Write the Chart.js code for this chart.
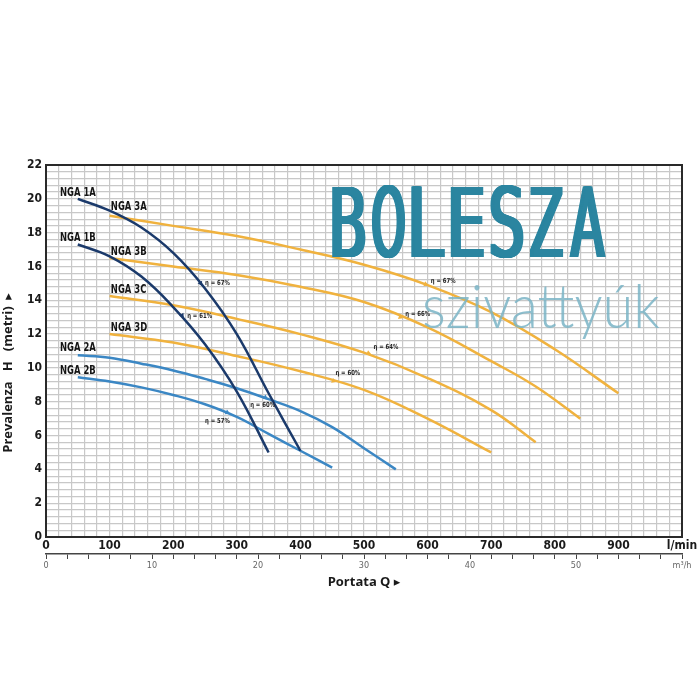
<!DOCTYPE html>
<html>
<head>
<meta charset="utf-8">
<script src="https://cdn.jsdelivr.net/npm/chart.js@4.4.1/dist/chart.umd.min.js"></script>
<style>
  html, body { margin: 0; padding: 0; background: #fff; }
  #wrap { width: 700px; height: 700px; }
</style>
</head>
<body>
<div id="wrap"><canvas id="chart"></canvas></div>
<script>
// pump curves: flow Q (l/min) and head H (m)
const q1A = [50, 100, 150, 200, 250, 300, 350, 400];
const h1A = [20.0, 19.3, 18.3, 16.8, 14.7, 12.0, 8.5, 5.1];
const q1B = [50, 100, 150, 200, 250, 300, 350];
const h1B = [17.3, 16.6, 15.4, 13.6, 11.4, 8.6, 5.0];
const q2A = [50, 100, 150, 200, 250, 300, 350, 400, 450, 500, 550];
const h2A = [10.75, 10.6, 10.25, 9.85, 9.35, 8.8, 8.15, 7.45, 6.5, 5.25, 4.0];
const q2B = [50, 100, 150, 200, 250, 300, 350, 400, 450];
const h2B = [9.45, 9.2, 8.85, 8.4, 7.85, 7.1, 6.1, 5.1, 4.1];
const q3A = [100, 200, 300, 400, 500, 600, 700, 800, 900];
const h3A = [19.0, 18.4, 17.8, 17.0, 16.1, 14.9, 13.3, 11.1, 8.5];
const q3B = [100, 200, 300, 400, 500, 600, 700, 770, 840];
const h3B = [16.5, 16.0, 15.5, 14.8, 13.9, 12.4, 10.4, 8.9, 7.0];
const q3C = [100, 200, 300, 400, 500, 600, 700, 770];
const h3C = [14.25, 13.7, 12.9, 12.0, 10.9, 9.4, 7.5, 5.6];
const q3D = [100, 200, 300, 400, 500, 600, 700];
const h3D = [12.0, 11.5, 10.7, 9.8, 8.7, 7.0, 5.0];

// curve name labels
const names = ['NGA 1A', 'NGA 1B', 'NGA 2A', 'NGA 2B', 'NGA 3A', 'NGA 3B', 'NGA 3C', 'NGA 3D'];
const nameQ = [22, 22, 22, 22, 102, 102, 102, 102];
const nameH = [20.35, 17.7, 11.2, 9.82, 19.5, 16.85, 14.64, 12.39];

// efficiency markers and labels
const effText = ['η = 67%', 'η = 61%', 'η = 60%', 'η = 57%', 'η = 67%', 'η = 66%', 'η = 64%', 'η = 60%'];
const effMarkQ = [243, 214, 345, 285, 597, 557, 507, 452];
const effMarkH = [15.0, 13.1, 8.25, 7.36, 14.95, 13.0, 10.87, 9.23];
const effTextQ = [250, 222, 321, 250, 605, 565, 515, 455];
const effTextH = [15.0, 13.05, 7.8, 6.86, 15.1, 13.2, 11.24, 9.67];

const navy = '#1b3a6b', blue = '#3b87c4', orange = '#f0b23e';
const effColor = [navy, navy, blue, blue, orange, orange, orange, orange];
const effRot = [150, 145, 118, 115, 110, 110, 112, 112];

const pts = (q, h) => q.map((v, i) => ({ x: v, y: h[i] }));
const COND = "'DejaVu Sans Condensed', 'DejaVu Sans', sans-serif";

function curve(q, h, color) {
  return {
    type: 'line', data: pts(q, h), borderColor: color, borderWidth: 2.5,
    pointRadius: 0, fill: false, tension: 0.4
  };
}

function drawText(ctx, text, x, y, font, color, sx, align) {
  ctx.save();
  ctx.translate(x, y);
  ctx.scale(sx, 1);
  ctx.font = font;
  ctx.fillStyle = color;
  ctx.textAlign = align || 'left';
  ctx.textBaseline = 'middle';
  ctx.fillText(text, 0, 0);
  ctx.restore();
}

const overlay = {
  id: 'overlay',
  afterDatasetsDraw(chart) {
    const { ctx, chartArea: a, scales: { x, y } } = chart;
    ctx.save();
    ctx.strokeStyle = '#2a2a2a';
    ctx.lineWidth = 2;
    ctx.strokeRect(a.left, a.top, a.right - a.left, a.bottom - a.top);
    names.forEach((n, i) => {
      drawText(ctx, n, x.getPixelForValue(nameQ[i]), y.getPixelForValue(nameH[i]),
        'bold 12px ' + COND, '#151515', 0.78);
    });
    effText.forEach((t, i) => {
      drawText(ctx, t, x.getPixelForValue(effTextQ[i]), y.getPixelForValue(effTextH[i]),
        'bold 7px ' + COND, '#222', 0.85);
    });
    // watermark
    const word = 'BOLESZA';
    const smear = 4;
    ctx.font = '96px ' + COND;
    ctx.fillStyle = '#2b85a0';
    ctx.textBaseline = 'alphabetic';
    ctx.textAlign = 'left';
    for (let i = 0; i < word.length; i++) {
      const m = ctx.measureText(word[i]);
      const ink = m.actualBoundingBoxLeft + m.actualBoundingBoxRight;
      const tw = (word[i] === 'A' ? 37 : 34) - smear;
      const sx = tw / ink;
      for (let d = 0; d <= smear; d += 0.5) {
        ctx.save();
        ctx.translate(332 + i * 39.5 + d + m.actualBoundingBoxLeft * sx, 257);
        ctx.scale(sx, 1);
        ctx.fillText(word[i], 0, 0);
        ctx.restore();
      }
    }
    ctx.font = '300 62px Lato, "Open Sans", sans-serif';
    const sw = ctx.measureText('szivattyúk').width;
    ctx.save();
    ctx.globalAlpha = 0.85;
    ctx.fillStyle = '#7ab4c6';
    ctx.translate(422, 328);
    ctx.scale(238 / sw, 1);
    ctx.fillText('szivattyúk', 0, 0);
    ctx.restore();
    ctx.restore();
  }
};

new Chart(document.getElementById('chart'), {
  type: 'line',
  data: {
    datasets: [
      curve(q1A, h1A, navy),
      curve(q1B, h1B, navy),
      curve(q2A, h2A, blue),
      curve(q2B, h2B, blue),
      curve(q3A, h3A, orange),
      curve(q3B, h3B, orange),
      curve(q3C, h3C, orange),
      curve(q3D, h3D, orange),
      {
        type: 'scatter', data: pts(effMarkQ, effMarkH), pointStyle: 'triangle',
        pointRadius: 3, pointRotation: effRot, pointBackgroundColor: effColor,
        pointBorderWidth: 0
      }
    ]
  },
  options: {
    animation: false,
    responsive: true,
    maintainAspectRatio: false,
    layout: { padding: { top: 165, left: 0, right: 18, bottom: 106 } },
    plugins: { legend: { display: false }, tooltip: { enabled: false } },
    scales: {
      x: {
        type: 'linear', position: 'bottom', min: 0, max: 1000, weight: 0,
        grid: { color: '#c8c8c8', lineWidth: 1.2, drawTicks: false },
        border: { display: false },
        ticks: {
          stepSize: 20, autoSkip: false, maxRotation: 0, padding: 2,
          color: '#1a1a1a', font: { family: COND, size: 12, weight: 'bold' },
          callback: v => (Math.round(v) % 100 === 0 ? (v === 1000 ? 'l/min' : v) : '')
        },
        afterFit: s => { s.height = 17; }
      },
      x2: {
        type: 'linear', position: 'bottom', min: 0, max: 60, weight: 1,
        grid: { drawOnChartArea: false, drawTicks: true, tickLength: 5, color: '#444', lineWidth: 1 },
        border: { display: true, color: '#444', width: 1.5 },
        ticks: {
          stepSize: 2, autoSkip: false, maxRotation: 0, padding: 1,
          color: '#666', font: { family: COND, size: 9 },
          callback: v => (Math.round(v) % 10 === 0 ? (v === 60 ? 'm³/h' : v) : '')
        },
        title: {
          display: true, text: 'Portata Q ▸', color: '#1a1a1a', padding: { top: 3 },
          font: { family: "'Open Sans', 'DejaVu Sans', sans-serif", size: 13, weight: 'bold' }
        },
        afterFit: s => { s.height = 40; }
      },
      y: {
        type: 'linear', min: 0, max: 22,
        grid: { color: '#c8c8c8', lineWidth: 1.2, drawTicks: false },
        border: { display: false },
        ticks: {
          stepSize: 0.4, autoSkip: false, padding: 4,
          color: '#1a1a1a', font: { family: COND, size: 12, weight: 'bold' },
          callback: v => (Math.round(v * 10) % 20 === 0 ? Math.round(v) : '')
        },
        title: {
          display: true, color: '#1a1a1a', padding: 0,
          text: 'Prevalenza\u00a0\u00a0\u00a0H\u00a0\u00a0\u00a0(metri)\u00a0\u00a0▸' + '\u00a0'.repeat(13),
          font: { family: "'Open Sans', 'DejaVu Sans', sans-serif", size: 13, weight: 'bold' }
        },
        afterFit: s => { s.width = 46; }
      }
    }
  },
  plugins: [overlay]
});
</script>
</body>
</html>
